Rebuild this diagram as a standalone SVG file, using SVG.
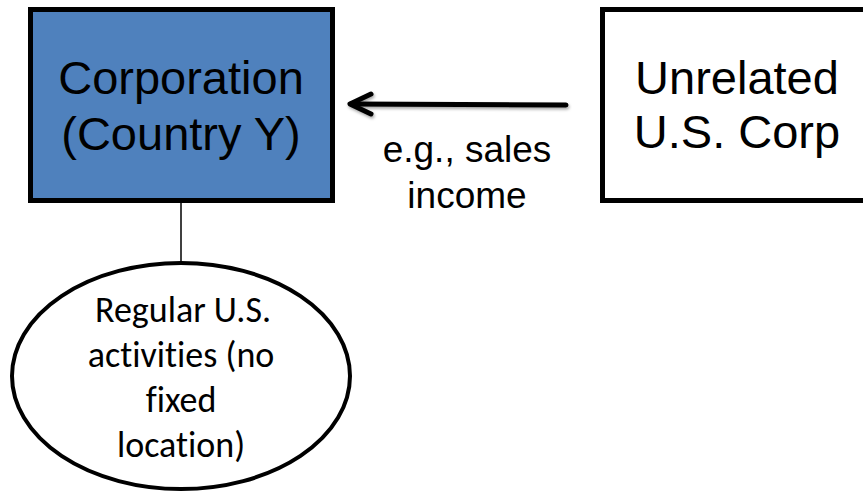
<svg xmlns="http://www.w3.org/2000/svg" width="863" height="492" viewBox="0 0 863 492">
<style>
.box{stroke:#000;stroke-width:5}
.big{font-family:"Liberation Sans",Arial,sans-serif;font-size:47px;fill:#000;text-anchor:middle}
.mid{font-family:"Liberation Sans",Arial,sans-serif;font-size:37px;fill:#000;text-anchor:middle}
.small{font-family:Carlito,Calibri,Lato,"Liberation Sans",sans-serif;font-size:36px;fill:#000;text-anchor:middle;font-variant-ligatures:none}
</style>
<defs>
<filter id="sh" x="-10%" y="-50%" width="120%" height="200%">
<feDropShadow dx="1" dy="2" stdDeviation="1.5" flood-color="#000" flood-opacity="0.35"/>
</filter>
</defs>
<rect width="863" height="492" fill="#fff"/>
<g id="connectors">
<line x1="181" y1="203" x2="181" y2="262" stroke="#000" stroke-width="1.5"/>
<g filter="url(#sh)" stroke="#000" stroke-width="5" stroke-linecap="round" stroke-linejoin="round" fill="none">
<line x1="566" y1="105" x2="351" y2="104"/>
<polyline points="371,94 350,104 371,114"/>
</g>
</g>
<g id="corp-y">
<rect class="box" x="30.5" y="9.5" width="302" height="191" fill="#4F81BD"/>
<text class="big" x="181" y="94">Corporation</text>
<text class="big" x="181" y="150">(Country Y)</text>
</g>
<g id="us-corp">
<rect class="box" x="602.5" y="9.5" width="280" height="191" fill="#fff"/>
<text class="big" x="737" y="94">Unrelated</text>
<text class="big" x="737" y="148">U.S. Corp</text>
</g>
<g id="label">
<text class="mid" x="467" y="162">e.g., sales</text>
<text class="mid" x="467" y="208">income</text>
</g>
<g id="activities">
<ellipse cx="181" cy="376" rx="169" ry="113" fill="#fff" stroke="#000" stroke-width="4"/>
<text class="small" x="183" y="322">Regular U.S.</text>
<text class="small" x="181" y="367">activities (no</text>
<text class="small" x="181" y="412">fixed</text>
<text class="small" x="181" y="457">location)</text>
</g>
</svg>
